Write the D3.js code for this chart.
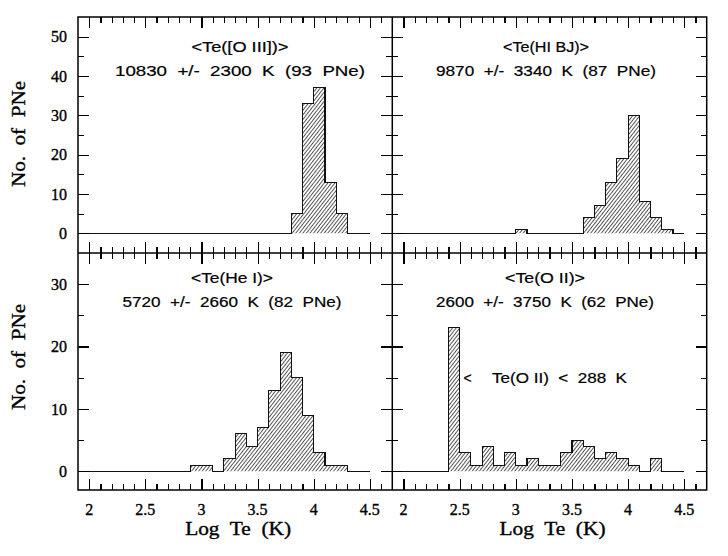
<!DOCTYPE html>
<html lang="en">
<head>
<meta charset="UTF-8">
<title>Te histograms</title>
<script src="https://d3js.org/d3.v7.min.js"></script>
<style>
  body { margin: 0; background: #fff; }
  svg { display: block; }
  .tick line { stroke: #000; stroke-width: 1.2; }
  .num { font-family: "Liberation Serif", "DejaVu Serif", serif; font-size: 16px; fill: #000; stroke: #000; stroke-width: 0.35; }
  .lab { font-family: "Liberation Serif", "DejaVu Serif", serif; font-size: 18px; fill: #000; stroke: #000; stroke-width: 0.35; white-space: pre; }
  .note { font-family: "Liberation Sans", "DejaVu Sans", sans-serif; font-size: 14px; fill: #000; stroke: #000; stroke-width: 0.2; white-space: pre; }
</style>
</head>
<body>
<script>
// left edges of the 0.1 dex bins in Log Te
var binLefts = [1.9, 2.0, 2.1, 2.2, 2.3, 2.4, 2.5, 2.6, 2.7, 2.8, 2.9, 3.0, 3.1,
                3.2, 3.3, 3.4, 3.5, 3.6, 3.7, 3.8, 3.9, 4.0, 4.1, 4.2, 4.3, 4.4];
var binWidth = 0.1;

// number of PNe per bin
var countsOIII = [0, 0, 0, 0, 0, 0, 0, 0, 0, 0, 0, 0, 0, 0, 0, 0, 0, 0, 0, 5, 33, 37, 13, 5, 0, 0];
var countsHIBJ = [0, 0, 0, 0, 0, 0, 0, 0, 0, 0, 0, 1, 0, 0, 0, 0, 0, 4, 7, 13, 19, 30, 8, 4, 1, 0];
var countsHeI  = [0, 0, 0, 0, 0, 0, 0, 0, 0, 0, 1, 1, 0, 2, 6, 4, 7, 13, 19, 15, 9, 3, 1, 1, 0, 0];
var countsOII  = [0, 0, 0, 0, 0, 23, 3, 1, 4, 1, 3, 1, 2, 1, 1, 3, 5, 4, 2, 3, 2, 1, 0, 2, 0, 0];

var xMajor = [2, 2.5, 3, 3.5, 4, 4.5];
var xMinor = [2.1, 2.2, 2.3, 2.4, 2.6, 2.7, 2.8, 2.9, 3.1, 3.2, 3.3, 3.4,
              3.6, 3.7, 3.8, 3.9, 4.1, 4.2, 4.3, 4.4, 4.6];
var xTickLabels = ["2", "2.5", "3", "3.5", "4", "4.5"];
var yMajorTop = [0, 10, 20, 30, 40, 50];
var yMinorTop = [5, 15, 25, 35, 45];
var yMajorBottom = [0, 10, 20, 30];
var yMinorBottom = [5, 15, 25];

var titles = ["<Te([O III])>", "<Te(HI BJ)>", "<Te(He I)>", "<Te(O II)>"];
var subtitles = ["10830  +/-  2300  K  (93  PNe)", "9870  +/-  3340  K  (87  PNe)",
                 "5720  +/-  2660  K  (82  PNe)", "2600  +/-  3750  K  (62  PNe)"];

var width = 728, height = 556;
var frameL = 78, frameM = 392.3, frameR = 706.7;
var frameT = 17, frameMY = 253, frameB = 490;

var svg = d3.select("body").append("svg")
    .attr("width", width)
    .attr("height", height);

var defs = svg.append("defs");
defs.append("pattern")
    .attr("id", "hatch")
    .attr("patternUnits", "userSpaceOnUse")
    .attr("width", 2.8)
    .attr("height", 10)
    .attr("patternTransform", "rotate(38)")
    .append("line")
    .attr("x1", 1.4).attr("y1", 0)
    .attr("x2", 1.4).attr("y2", 10)
    .attr("stroke", "#333")
    .attr("stroke-width", 0.85);

var xLeft = d3.scaleLinear().domain([1.9, 4.7]).range([frameL, frameM]);
var xRight = d3.scaleLinear().domain([1.9, 4.7]).range([frameM, frameR]);
var yTop = d3.scaleLinear().domain([-5, 55]).range([frameMY, frameT]);
var yBottom = d3.scaleLinear().domain([-3, 35]).range([frameB, frameMY]);

var panels = [
    {counts: countsOIII, x: xLeft,  y: yTop,    row: 0, col: 0, tx: 240, ty: 52, w1: 97, w2: 250},
    {counts: countsHIBJ, x: xRight, y: yTop,    row: 0, col: 1, tx: 546, ty: 52, w1: 86, w2: 220},
    {counts: countsHeI,  x: xLeft,  y: yBottom, row: 1, col: 0, tx: 232, ty: 283, w1: 82, w2: 219},
    {counts: countsOII,  x: xRight, y: yBottom, row: 1, col: 1, tx: 545, ty: 283, w1: 80, w2: 218}
];

function addTicks(axis, tx, ty, values, size) {
    var g = svg.append("g")
        .attr("transform", "translate(" + tx + "," + ty + ")")
        .call(axis.tickValues(values).tickSize(-size).tickFormat(""));
    g.select(".domain").remove();
    g.selectAll("line").attr("shape-rendering", "crispEdges");
}

panels.forEach(function (p, i) {
    var pts = [];
    p.counts.forEach(function (c, k) {
        pts.push([binLefts[k], c]);
        pts.push([binLefts[k] + binWidth, c]);
    });

    var area = d3.area()
        .x(function (d) { return p.x(d[0]); })
        .y0(p.y(0))
        .y1(function (d) { return p.y(d[1]); });
    var line = d3.line()
        .x(function (d) { return p.x(d[0]); })
        .y(function (d) { return p.y(d[1]); });

    svg.append("path")
        .attr("d", area(pts))
        .attr("fill", "url(#hatch)");
    svg.append("path")
        .attr("d", line(pts))
        .attr("fill", "none")
        .attr("stroke", "#111")
        .attr("stroke-width", 1.1)
        .attr("shape-rendering", "crispEdges");

    // ticks on all four sides, pointing inwards
    var yR = p.y.range();
    var xR = p.x.range();
    addTicks(d3.axisTop(p.x), 0, yR[1], xMajor, 11);
    addTicks(d3.axisTop(p.x), 0, yR[1], xMinor, 6);
    addTicks(d3.axisBottom(p.x), 0, yR[0], xMajor, 11);
    addTicks(d3.axisBottom(p.x), 0, yR[0], xMinor, 6);
    var maj = p.row === 0 ? yMajorTop : yMajorBottom;
    var mnr = p.row === 0 ? yMinorTop : yMinorBottom;
    addTicks(d3.axisLeft(p.y), xR[0], 0, maj, 11);
    addTicks(d3.axisLeft(p.y), xR[0], 0, mnr, 6);
    addTicks(d3.axisRight(p.y), xR[1], 0, maj, 11);
    addTicks(d3.axisRight(p.y), xR[1], 0, mnr, 6);

    svg.append("text").attr("class", "note")
        .attr("x", p.tx).attr("y", p.ty)
        .attr("text-anchor", "middle")
        .attr("textLength", p.w1).attr("lengthAdjust", "spacingAndGlyphs")
        .text(titles[i]);
    svg.append("text").attr("class", "note")
        .attr("x", p.tx).attr("y", p.ty + 24)
        .attr("text-anchor", "middle")
        .attr("textLength", p.w2).attr("lengthAdjust", "spacingAndGlyphs")
        .text(subtitles[i]);

    if (p.col === 0) {
        svg.selectAll(null).data(maj).enter().append("text")
            .attr("class", "num")
            .attr("x", 67)
            .attr("y", function (d) { return p.y(d); })
            .attr("dy", "0.35em")
            .attr("text-anchor", "end")
            .text(function (d) { return d; });
        svg.append("text").attr("class", "lab")
            .attr("transform", "translate(25," + (p.row === 0 ? 134 : 357) + ") rotate(-90)")
            .attr("text-anchor", "middle")
            .attr("textLength", 106).attr("lengthAdjust", "spacingAndGlyphs")
            .text("No.  of  PNe");
    }
    if (p.row === 1) {
        svg.selectAll(null).data(xMajor).enter().append("text")
            .attr("class", "num")
            .attr("x", function (d) { return p.x(d); })
            .attr("y", 515)
            .attr("text-anchor", "middle")
            .text(function (d, k) { return xTickLabels[k]; });
        svg.append("text").attr("class", "lab")
            .attr("x", (xR[0] + xR[1]) / 2 + 3)
            .attr("y", 535)
            .attr("text-anchor", "middle")
            .attr("textLength", 106).attr("lengthAdjust", "spacingAndGlyphs")
            .text("Log  Te  (K)");
    }
});

// note on the O II panel
svg.append("text").attr("class", "note")
    .attr("x", xRight(2.57)).attr("y", yBottom(15) + 5)
    .attr("text-anchor", "middle")
    .text("<");
svg.append("text").attr("class", "note")
    .attr("x", 492).attr("y", yBottom(15) + 5)
    .attr("stroke-width", 0.6)
    .attr("textLength", 135).attr("lengthAdjust", "spacingAndGlyphs")
    .text("Te(O II)  <  288  K");

// frame and panel dividers
svg.append("rect")
    .attr("x", frameL).attr("y", frameT)
    .attr("width", frameR - frameL).attr("height", frameB - frameT)
    .attr("fill", "none").attr("stroke", "#000").attr("stroke-width", 1.5);
svg.append("line")
    .attr("x1", frameM).attr("x2", frameM).attr("y1", frameT).attr("y2", frameB)
    .attr("stroke", "#000").attr("stroke-width", 1.5);
svg.append("line")
    .attr("x1", frameL).attr("x2", frameR).attr("y1", frameMY).attr("y2", frameMY)
    .attr("stroke", "#000").attr("stroke-width", 1.5);
</script>
</body>
</html>
